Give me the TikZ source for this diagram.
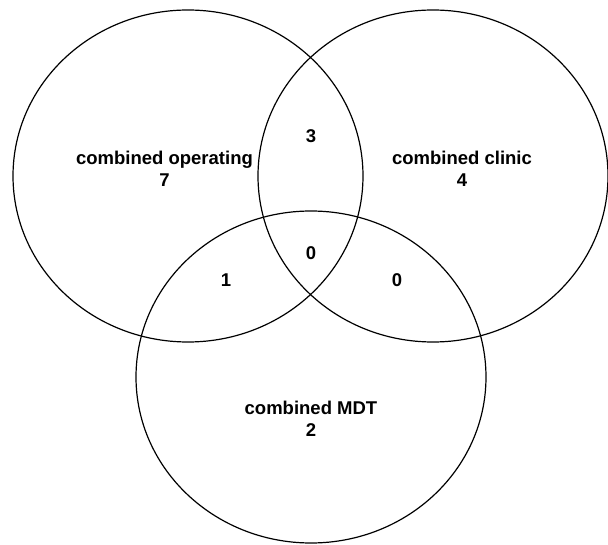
\documentclass[tikz,border=0pt]{standalone}
\usepackage{fontspec}
\setmainfont{Liberation Sans}
\usepackage{tikz}
\usetikzlibrary{shapes.geometric}
\tikzstyle{setcircle} = [ellipse, minimum width=350pt, minimum height=332pt, inner sep=0pt, draw=black, line width=1.2pt]
\tikzstyle{setlabel} = [align=center, inner sep=0pt, font=\fontsize{18.5}{22.5}\selectfont\bfseries]

\begin{document}
\begin{tikzpicture}[x=1pt, y=-1pt]
                    \useasboundingbox (0,0) rectangle (608,545);
                    \node (OP) [setcircle] at (188,176) {};
                    \node (CL) [setcircle] at (433,176) {};
                    \node (MDT) [setcircle] at (311,377) {};
                    \node (OPlab) [setlabel] at (164.5,169) {combined operating\\7};
                    \node (CLlab) [setlabel] at (462,169) {combined clinic\\4};
                    \node (MDTlab) [setlabel] at (311,419) {combined MDT\\2};
                    \node (OPCL) [setlabel] at (311,136) {3};
                    \node (ALL) [setlabel] at (311,253) {0};
                    \node (OPMDT) [setlabel] at (226,280) {1};
                    \node (CLMDT) [setlabel] at (397,280) {0};
                \end{tikzpicture}
\end{document}
